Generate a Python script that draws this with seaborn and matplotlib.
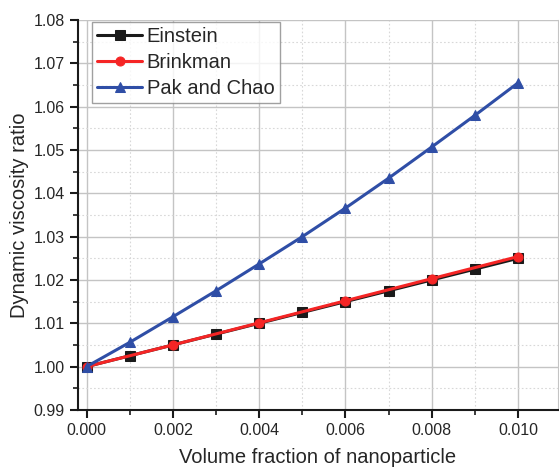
import numpy as np
import pandas as pd
import matplotlib
matplotlib.use("Agg")
import matplotlib.pyplot as plt
from matplotlib.ticker import MultipleLocator, FormatStrFormatter
import seaborn as sns

# ------------------------------------------------------------
# Data
# ------------------------------------------------------------
phi = [0.000, 0.001, 0.002, 0.003, 0.004, 0.005, 0.006, 0.007, 0.008, 0.009, 0.010]
einstein = [1.0000, 1.0025, 1.0050, 1.0075, 1.0100, 1.0125, 1.0150, 1.0175, 1.0200, 1.0225, 1.0250]

phi_brinkman = [0.000, 0.002, 0.004, 0.006, 0.008, 0.010]
brinkman = [1.0000, 1.0050, 1.0101, 1.0152, 1.0203, 1.0254]

pak_chao = [1.0000, 1.0056, 1.0115, 1.0175, 1.0237, 1.0300, 1.0366, 1.0435, 1.0507, 1.0580, 1.0655]

series_names = ["Einstein", "Brinkman", "Pak and Chao"]

# ------------------------------------------------------------
# Style
# ------------------------------------------------------------
sns.set_style("white")
plt.rcParams["font.family"] = ["Liberation Sans", "DejaVu Sans"]

fig = plt.figure(figsize=(5.59, 4.69), dpi=100)
ax = fig.add_axes([0.1395, 0.126, 0.858, 0.831])

# ------------------------------------------------------------
# Plot
# ------------------------------------------------------------
sns.lineplot(x=phi, y=einstein, ax=ax, color="#1a1a1a", linewidth=2.2,
             marker="s", markersize=7.5, markeredgecolor="#1a1a1a",
             label=series_names[0])
sns.lineplot(x=phi_brinkman, y=brinkman, ax=ax, color="#f52525", linewidth=2.2,
             marker="o", markersize=6.5, markeredgecolor="#f52525",
             label=series_names[1])
sns.lineplot(x=phi, y=pak_chao, ax=ax, color="#2f4ea6", linewidth=2.2,
             marker="^", markersize=7.5, markeredgecolor="#2f4ea6",
             label=series_names[2])

# ------------------------------------------------------------
# Axes
# ------------------------------------------------------------
ax.set_xlim(-0.0002, 0.01092)
ax.set_ylim(0.99, 1.08)
ax.xaxis.set_major_locator(MultipleLocator(0.002))
ax.xaxis.set_minor_locator(MultipleLocator(0.001))
ax.yaxis.set_major_locator(MultipleLocator(0.01))
ax.yaxis.set_minor_locator(MultipleLocator(0.005))
ax.xaxis.set_major_formatter(FormatStrFormatter("%.3f"))
ax.yaxis.set_major_formatter(FormatStrFormatter("%.2f"))

ax.grid(which="major", color="#c4c4c4", linewidth=1.0, linestyle="-")
ax.grid(which="minor", color="#d8d8d8", linewidth=0.8, linestyle=(0, (1.5, 2)))
ax.set_axisbelow(True)

ax.spines["top"].set_visible(False)
ax.spines["right"].set_color("#c4c4c4")
ax.spines["left"].set_linewidth(1.5)
ax.spines["bottom"].set_linewidth(1.5)
ax.spines["left"].set_color("#1a1a1a")
ax.spines["bottom"].set_color("#1a1a1a")

ax.tick_params(which="major", direction="out", length=6, width=1.5,
               labelsize=11.5, left=True, bottom=True, color="#1a1a1a")
ax.tick_params(which="minor", direction="out", length=3.5, width=1.2,
               left=True, bottom=True, color="#1a1a1a")

ax.set_xlabel("Volume fraction of nanoparticle", fontsize=14.5, labelpad=7)
ax.set_ylabel("Dynamic viscosity ratio", fontsize=14.5, labelpad=3)

leg = ax.legend(loc="upper left", bbox_to_anchor=(0.03, 0.995), fontsize=14.5,
                frameon=True, fancybox=False, edgecolor="#888888",
                handlelength=2.2, handletextpad=0.25, borderpad=0.25,
                labelspacing=0.35, borderaxespad=0)
leg.get_frame().set_linewidth(1.0)

fig.savefig("out.png", dpi=100)
